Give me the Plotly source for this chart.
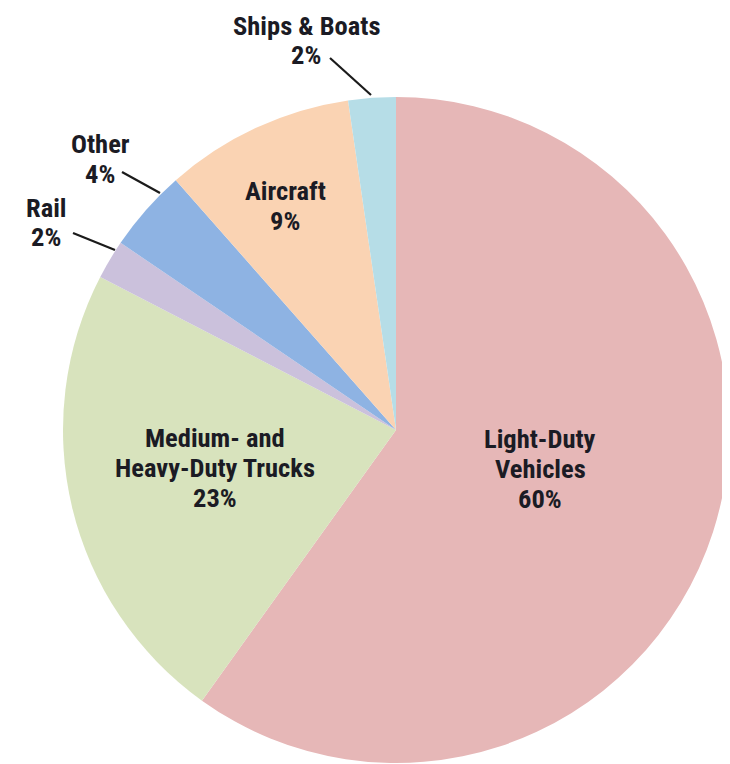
import plotly.graph_objects as go

# transportation energy use by mode (share of total, %)
categories = ["Light-Duty Vehicles", "Medium- and Heavy-Duty Trucks", "Rail", "Other", "Aircraft", "Ships & Boats"]
shares = [59.9, 22.7, 1.9, 4.0, 9.2, 2.3]
pct_labels = ["60%", "23%", "2%", "4%", "9%", "2%"]
label_lines = [
    ["Light-Duty", "Vehicles"],
    ["Medium- and", "Heavy-Duty Trucks"],
    ["Rail"],
    ["Other"],
    ["Aircraft"],
    ["Ships & Boats"],
]
colors = ["#E6B7B7", "#D8E3BD", "#CBC1DC", "#8EB3E3", "#FAD3B3", "#B6DDE7"]

# page body has an 8px margin, so the figure is made smaller and
# positions below are given in window pixels and shifted by OFF
OFF = 8
W, H = 730 - OFF, 764 - OFF
M_T, M_B = 96 - OFF, 0
FONT = "Liberation Sans Narrow, Arial Narrow, Roboto Condensed, Arial, sans-serif"


def px(x):
    return (x - OFF) / W


def py(y):
    return (H - M_B - (y - OFF)) / (H - M_T - M_B)


# label anchor (centre of first line, window pixels) and leader lines for small slices
label_pos = [(540, 438), (215, 437), (46, 207), (100, 143), (285, 190), (306, 25)]
leaders = {2: (73, 233, 115, 250), 3: (122, 172, 160, 193), 5: (330, 58, 371, 95)}
LINE_H = 30

fig = go.Figure()
fig.add_trace(go.Pie(
    labels=categories,
    values=shares,
    sort=False,
    direction="clockwise",
    rotation=0,
    marker=dict(colors=colors, line=dict(width=0)),
    textinfo="none",
    hoverinfo="label+percent",
    showlegend=False,
    domain=dict(x=[(63 - OFF) / W, (729 - OFF) / W], y=[0, 1]),
))

for i, lines in enumerate(label_lines):
    x0, y0 = label_pos[i]
    for j, txt in enumerate(lines + [pct_labels[i]]):
        fig.add_annotation(
            x=px(x0), y=py(y0 + j * LINE_H), xref="paper", yref="paper",
            text=f"<b>{txt}</b>", showarrow=False,
            xanchor="center", yanchor="middle",
            font=dict(family=FONT, size=26.5, color="#1b1b24"),
        )

for i, (x1, y1, x2, y2) in leaders.items():
    fig.add_shape(
        type="line", xref="paper", yref="paper",
        x0=px(x1), y0=py(y1), x1=px(x2), y1=py(y2),
        line=dict(color="#1b1b1b", width=2.2),
    )

fig.update_layout(
    width=W, height=H,
    margin=dict(l=0, r=0, t=M_T, b=M_B),
    paper_bgcolor="white",
    plot_bgcolor="white",
)

fig.write_html("out.html")
